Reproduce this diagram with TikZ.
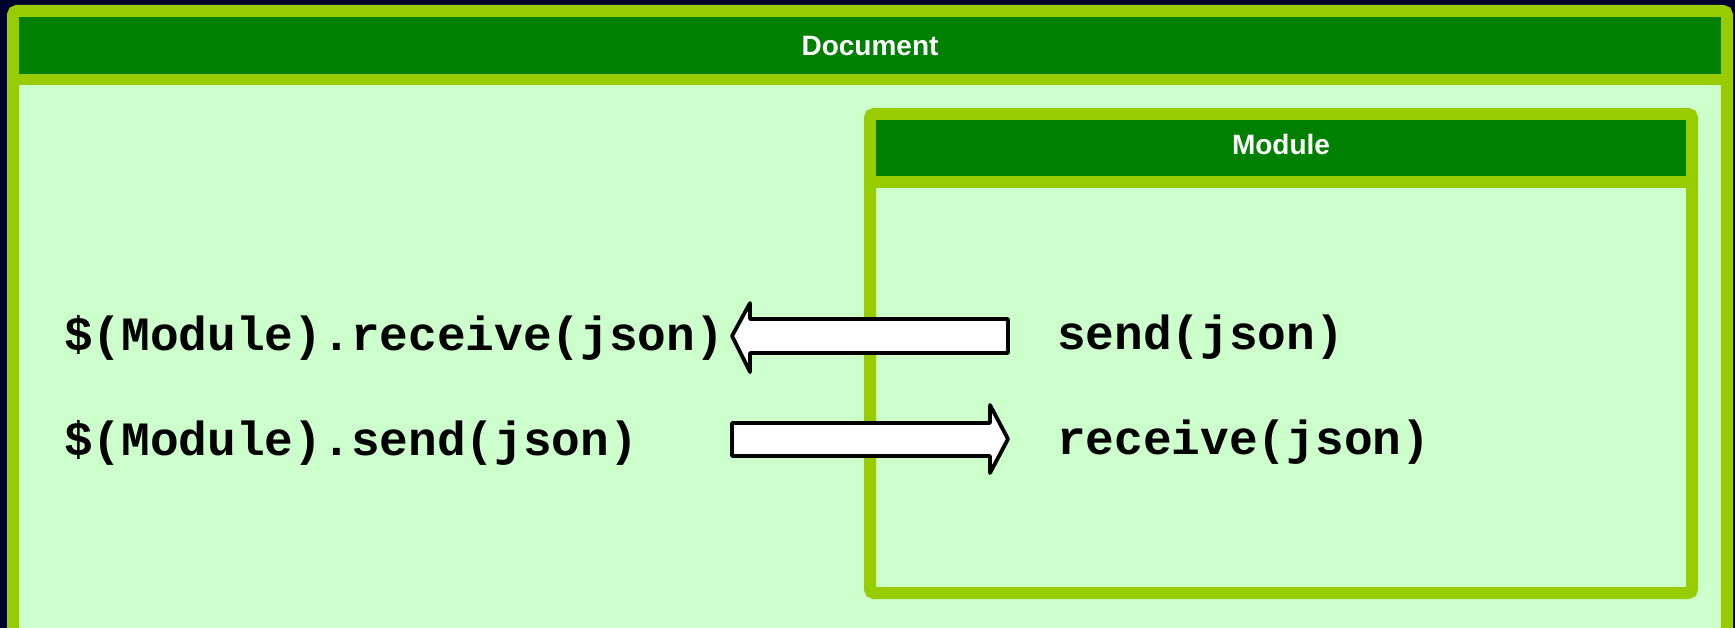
\documentclass[tikz,border=0pt]{standalone}
\usepackage{fontspec}
\setmainfont{Liberation Sans}
\newfontfamily\codefont{Liberation Mono}
\definecolor{bgnavy}{HTML}{00002E}
\definecolor{framelime}{HTML}{99CC00}
\definecolor{bargreen}{HTML}{008000}
\definecolor{panel}{HTML}{CCFFCC}
\tikzset{
  frame/.style={draw=framelime, line width=12pt, fill=panel, rounded corners=4pt},
  titlebar/.style={fill=bargreen},
  divider/.style={draw=framelime, line width=11.5pt},
  titletext/.style={text=white, font=\bfseries\fontsize{28}{33}\selectfont, inner sep=0pt},
  codetext/.style={text=black, font=\codefont\bfseries\fontsize{47.8}{56}\selectfont, inner sep=0pt, anchor=base west},
  blockarrow/.style={draw=black, fill=white, line width=3.8pt, line join=round}
}
\begin{document}
\begin{tikzpicture}[x=1pt, y=-1pt]
  \useasboundingbox (0,0) rectangle (1735,628);
  \clip (0,0) rectangle (1735,628);
  \fill[bgnavy] (0,0) rectangle (1735,628);

  % Document container
  \draw[frame] (13,11) rectangle (1727,640);
  \fill[titlebar] (19,17) rectangle (1721,74);
  \draw[divider] (13,79.5) -- (1727,79.5);
  \node[titletext, anchor=base] (doctitle) at (870,55.5) {Document};

  % Module container
  \draw[frame] (870,114) rectangle (1692,593);
  \fill[titlebar] (876,120) rectangle (1686,176);
  \draw[divider] (870,182) -- (1692,182);
  \node[titletext, anchor=base] (modtitle) at (1281,154.5) {Module};

  % Calls on the document side
  \node[codetext] (docrecv) at (64,350) {\$(Module).receive(json)};
  \node[codetext] (docsend) at (64,455) {\$(Module).send(json)};

  % Calls on the module side
  \node[codetext] (modsend) at (1057,349) {send(json)};
  \node[codetext] (modrecv) at (1057,454) {receive(json)};

  % Message flow arrows
  \draw[blockarrow] (732,336) -- (750,303) -- (750,319) -- (1008,319)
        -- (1008,353) -- (750,353) -- (750,372) -- cycle;
  \draw[blockarrow] (732,423) -- (990,423) -- (990,405) -- (1008,439)
        -- (990,473) -- (990,456) -- (732,456) -- cycle;
\end{tikzpicture}
\end{document}
